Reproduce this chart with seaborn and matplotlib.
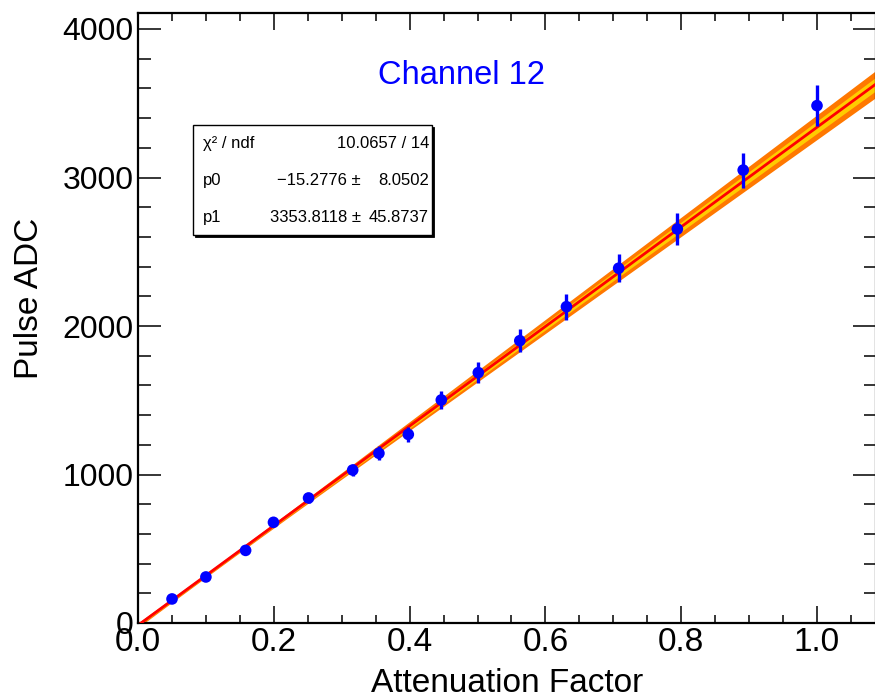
import numpy as np
import pandas as pd
import matplotlib
matplotlib.use("Agg")
import matplotlib.pyplot as plt
from matplotlib.ticker import MultipleLocator
from matplotlib.patches import Rectangle
import seaborn as sns

# Measured pulse heights versus attenuator setting
atten_factor = [0.0501, 0.1000, 0.1585, 0.1995, 0.2512, 0.3162, 0.3548, 0.3981,
                0.4467, 0.5012, 0.5623, 0.6310, 0.7079, 0.7943, 0.8913, 1.0000]
pulse_adc = [162, 310, 489, 678, 842, 1030, 1143, 1270,
             1502, 1686, 1901, 2130, 2389, 2653, 3050, 3484]
pulse_err = [6, 12, 20, 27, 34, 41, 46, 51,
             62, 71, 79, 88, 96, 108, 118, 137]

# Linear fit results  (pol1: p0 + p1*x)
p0, p0_err = -15.2776, 8.0502
p1, p1_err = 3353.8118, 45.8737
p0_p1_corr = -0.60
chi2, ndf = 10.0657, 14

channel_label = "Channel 12"
x_title = "Attenuation Factor"
y_title = "Pulse ADC"

W, H = 875, 698
sns.set_theme(style="ticks")
plt.rcParams["font.family"] = ["Liberation Sans", "DejaVu Sans"]
plt.rcParams["text.color"] = "black"
plt.rcParams["axes.labelcolor"] = "black"
plt.rcParams["xtick.color"] = "black"
plt.rcParams["ytick.color"] = "black"

fig = plt.figure(figsize=(W / 100, H / 100), dpi=100)
# frame in pixel units: left 138, right 876, top 13, bottom 623
ax = fig.add_axes([138 / W, 1 - 623 / H, (876 - 138) / W, (623 - 13) / H])

x_max = 738 / 679
y_max = 610 / 0.1485
ax.set_xlim(0, x_max)
ax.set_ylim(0, y_max)

df = pd.DataFrame({"x": atten_factor, "y": pulse_adc, "err": pulse_err})

# fit curve and its confidence bands
xf = np.linspace(0, x_max, 400)
yf = p0 + p1 * xf
cov = p0_p1_corr * p0_err * p1_err
sig = np.sqrt(p0_err ** 2 + (xf * p1_err) ** 2 + 2 * xf * cov)
ax.fill_between(xf, yf - 2 * sig, yf + 2 * sig, color="#ff7800", lw=0, zorder=1)
ax.fill_between(xf, yf - 1 * sig, yf + 1 * sig, color="#ffcc00", lw=0, zorder=2)
fit_df = pd.DataFrame({"x": xf, "y": yf})
sns.lineplot(data=fit_df, x="x", y="y", ax=ax, color="#ff0000", lw=2.0, zorder=3)

# data points with vertical errors
ax.errorbar(df["x"], df["y"], yerr=df["err"], fmt="none", ecolor="#0000ff",
            elinewidth=2.4, capsize=0, zorder=4)
sns.scatterplot(data=df, x="x", y="y", ax=ax, color="#0000ff", s=70,
                edgecolor="none", zorder=5)

# ROOT-like frame and ticks
ax.xaxis.set_major_locator(MultipleLocator(0.2))
ax.xaxis.set_minor_locator(MultipleLocator(0.05))
ax.yaxis.set_major_locator(MultipleLocator(1000))
ax.yaxis.set_minor_locator(MultipleLocator(200))
ax.set_xticks([0.0, 0.2, 0.4, 0.6, 0.8, 1.0])
ax.set_xticklabels(["0.0", "0.2", "0.4", "0.6", "0.8", "1.0"])
ax.tick_params(axis="both", which="both", direction="in", top=True, right=True,
               color="black", labelcolor="black", width=1.1)
ax.tick_params(axis="x", which="major", length=12, labelsize=24, pad=3)
ax.tick_params(axis="x", which="minor", length=6)
ax.tick_params(axis="y", which="major", length=16.5, labelsize=23, pad=3)
ax.tick_params(axis="y", which="minor", length=9)
for s in ax.spines.values():
    s.set_linewidth(1.6)
    s.set_color("black")

ax.set_xlabel(x_title, fontsize=24, color="black")
ax.set_ylabel(y_title, fontsize=24, color="black")
ax.xaxis.set_label_coords(0.5, -(683 - 623) / 610, transform=ax.transAxes)
ax.yaxis.set_label_coords(-(138 - 30) / 738, (623 - 298) / 610)
ax.xaxis.label.set_va("center")
ax.yaxis.label.set_va("center")


def fx(px):
    return px / W


def fy(py):
    return 1 - py / H


fig.text(fx(462), fy(76), channel_label, color="#0000ff", fontsize=23.5,
         ha="center", va="center")

# statistics box with drop shadow
bx0, by0, bx1, by1 = 193, 125, 432, 235
fig.patches.append(Rectangle((fx(bx0 + 2), fy(by1 + 2)), (bx1 - bx0) / W,
                             (by1 - by0) / H, transform=fig.transFigure,
                             facecolor="black", edgecolor="black", lw=0.6,
                             zorder=6))
fig.patches.append(Rectangle((fx(bx0), fy(by1)), (bx1 - bx0) / W,
                             (by1 - by0) / H, transform=fig.transFigure,
                             facecolor="white", edgecolor="black", lw=1.0,
                             zorder=7))
row_y = [143.5, 180.5, 217.5]
fs = 12
fig.text(fx(203), fy(row_y[0]), "χ² / ndf", fontsize=fs, ha="left",
         va="center", zorder=8)
fig.text(fx(429), fy(row_y[0]), f"{chi2:.4f} / {ndf}", fontsize=fs, ha="right",
         va="center", zorder=8)
for ry, name, val, err in [(row_y[1], "p0", p0, p0_err),
                           (row_y[2], "p1", p1, p1_err)]:
    fig.text(fx(203), fy(ry), name, fontsize=fs, ha="left", va="center", zorder=8)
    fig.text(fx(361), fy(ry), f"{val:.4f} ±".replace("-", "\u2212"), fontsize=fs,
             ha="right", va="center", zorder=8)
    fig.text(fx(429), fy(ry), f"{err:.4f}", fontsize=fs, ha="right",
             va="center", zorder=8)

fig.savefig("out.png", dpi=100)
